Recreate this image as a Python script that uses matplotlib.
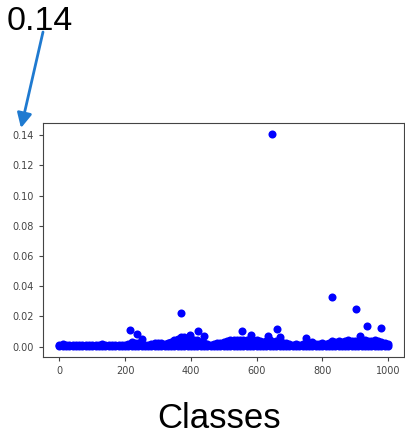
import numpy as np
import matplotlib
matplotlib.use("Agg")
import matplotlib.pyplot as plt

# ---- data ----
grid_classes = list(range(0, 1000, 10)) + [999]
upper_probs = [
    0.0012, 0.0014, 0.0012, 0.0010, 0.0011, 0.0013, 0.0010, 0.0012, 0.0011, 0.0010,
    0.0011, 0.0010, 0.0012, 0.0014, 0.0011, 0.0010, 0.0013, 0.0011, 0.0010, 0.0012,
    0.0013, 0.0015, 0.0030, 0.0025, 0.0020, 0.0015, 0.0012, 0.0010, 0.0015, 0.0020,
    0.0025, 0.0020, 0.0018, 0.0022, 0.0030, 0.0040, 0.0050, 0.0060, 0.0065, 0.0055,
    0.0050, 0.0040, 0.0045, 0.0030, 0.0020, 0.0015, 0.0012, 0.0015, 0.0020, 0.0025,
    0.0030, 0.0035, 0.0040, 0.0045, 0.0042, 0.0040, 0.0045, 0.0040, 0.0050, 0.0045,
    0.0040, 0.0035, 0.0030, 0.0035, 0.0045, 0.0030, 0.0035, 0.0040, 0.0025, 0.0020,
    0.0015, 0.0012, 0.0015, 0.0012, 0.0018, 0.0020, 0.0015, 0.0030, 0.0018, 0.0015,
    0.0020, 0.0018, 0.0025, 0.0035, 0.0030, 0.0035, 0.0030, 0.0035, 0.0040, 0.0035,
    0.0035, 0.0030, 0.0035, 0.0040, 0.0035, 0.0035, 0.0040, 0.0035, 0.0030, 0.0025,
    0.0015,
]
lower_probs = [
    0.0001, 0.0002, 0.0001, 0.0001, 0.0002, 0.0001, 0.0001, 0.0002, 0.0001, 0.0001,
    0.0002, 0.0001, 0.0001, 0.0002, 0.0001, 0.0001, 0.0002, 0.0001, 0.0001, 0.0002,
    0.0001, 0.0001, 0.0002, 0.0001, 0.0001, 0.0002, 0.0001, 0.0001, 0.0002, 0.0001,
    0.0001, 0.0002, 0.0001, 0.0001, 0.0002, 0.0001, 0.0001, 0.0002, 0.0001, 0.0001,
    0.0002, 0.0001, 0.0001, 0.0002, 0.0001, 0.0001, 0.0002, 0.0001, 0.0001, 0.0002,
    0.0001, 0.0001, 0.0002, 0.0001, 0.0001, 0.0002, 0.0001, 0.0001, 0.0002, 0.0001,
    0.0001, 0.0002, 0.0001, 0.0001, 0.0002, 0.0001, 0.0001, 0.0002, 0.0001, 0.0001,
    0.0002, 0.0001, 0.0001, 0.0002, 0.0001, 0.0001, 0.0002, 0.0001, 0.0001, 0.0002,
    0.0001, 0.0001, 0.0002, 0.0001, 0.0001, 0.0002, 0.0001, 0.0001, 0.0002, 0.0001,
    0.0001, 0.0002, 0.0001, 0.0001, 0.0002, 0.0001, 0.0001, 0.0002, 0.0001, 0.0001,
    0.0001,
]
mid_classes = [335, 345, 355, 365, 375, 385, 395, 405, 505, 525, 545, 565, 585, 605, 645, 885, 935]
mid_probs = [0.0020, 0.0025, 0.0028, 0.0030, 0.0032, 0.0030, 0.0028, 0.0025,
             0.0020, 0.0022, 0.0022, 0.0024, 0.0022, 0.0020, 0.0022, 0.0018, 0.0020]
outlier_classes = [216, 235, 250, 370, 398, 423, 439, 557, 582, 636, 646, 663, 670,
                   752, 831, 904, 915, 937, 980]
outlier_probs = [0.0110, 0.0082, 0.0049, 0.0221, 0.0079, 0.0106, 0.0073, 0.0106, 0.0077,
                 0.0073, 0.1411, 0.0115, 0.0066, 0.0055, 0.0331, 0.0249, 0.0073, 0.0137, 0.0122]
y_ticks = [0.00, 0.02, 0.04, 0.06, 0.08, 0.10, 0.12, 0.14]
x_ticks = [0, 200, 400, 600, 800, 1000]

# ---- figure ----
W, H = 405, 434
fig = plt.figure(figsize=(W / 100, H / 100), dpi=100)
ax = fig.add_axes([43 / W, 1 - 357 / H, (404 - 43) / W, (357 - 123) / H])

all_x = grid_classes + grid_classes + mid_classes + outlier_classes
all_y = upper_probs + lower_probs + mid_probs + outlier_probs
ax.plot(all_x, all_y, 'o', color='#0000ff', markersize=5.8, markeredgewidth=0)

ax.set_xticks(x_ticks)
ax.set_yticks(y_ticks)
ax.set_yticklabels([f"{v:.2f}" for v in y_ticks])
ax.tick_params(labelsize=7, labelcolor='#444444', length=3, width=0.8, color='#444444')
for s in ax.spines.values():
    s.set_color('#444444')
    s.set_linewidth(0.8)

fig.text(7 / W, 1 - 30 / H, "0.14", fontsize=24.5, family='Liberation Sans',
         va='baseline', ha='left', color='black')
fig.text(219 / W, 1 - 428 / H, "Classes", fontsize=25, family='Liberation Sans',
         va='baseline', ha='center', color='black')

ax.annotate("", xy=(21, H - 128), xytext=(43, H - 32),
            xycoords='figure pixels', textcoords='figure pixels',
            arrowprops=dict(arrowstyle='-|>', color='#1f7ad0', lw=2,
                            mutation_scale=22, shrinkA=0, shrinkB=0))

fig.savefig("out.png", dpi=100)
